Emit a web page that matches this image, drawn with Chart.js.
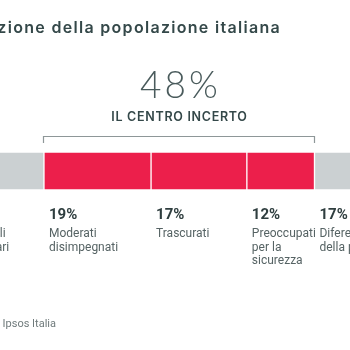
<!DOCTYPE html>
<html><head><meta charset="utf-8">
<script src="https://cdn.jsdelivr.net/npm/chart.js@4/dist/chart.umd.min.js"></script>
<style>html,body{margin:0;padding:0;background:#fff}#wrap{width:350px;height:350px;position:relative}</style>
</head><body><div id="wrap"><canvas id="c"></canvas></div>
<script>
const titleText = "Segmentazione della popolazione italiana";
const sourceText = "Fonte: elaborazione Ipsos, Ipsos Italia";
const groupLabel = "IL CENTRO INCERTO";
const categories = ["Popolazione"];
const segmentNames = [["Sociali","solidari"],["Moderati","disimpegnati"],["Trascurati"],["Preoccupati","per la","sicurezza"],["Diferenti","della politica"]];
const segmentValues = [14, 19, 17, 12, 17];
const groupSegments = [1, 2, 3];
const RED = "#ec1f4b", GREY = "#cbd0d2";
const segmentColors = [GREY, RED, RED, RED, GREY];

const overlay = {
  id: 'overlay',
  afterDraw(chart) {
    const ctx = chart.ctx;
    ctx.save();
    // title
    ctx.fillStyle = '#344849';
    ctx.font = '600 16px Inter, "Open Sans", sans-serif';
    ctx.letterSpacing = '1.3px';
    ctx.textAlign = 'right'; ctx.textBaseline = 'alphabetic';
    ctx.fillText(titleText, 281, 33);
    // bracket over the group
    const first = chart.getDatasetMeta(groupSegments[0]).data[0];
    const last = chart.getDatasetMeta(groupSegments[groupSegments.length-1]).data[0];
    const bx0 = Math.round(Math.min(first.base, first.x)) - 0.5;
    const bx1 = Math.round(Math.max(last.base, last.x)) + 0.5;
    ctx.strokeStyle = '#8e9798'; ctx.lineWidth = 1.2;
    ctx.beginPath();
    ctx.moveTo(bx0, 143); ctx.lineTo(bx0, 136.5); ctx.lineTo(bx1, 136.5); ctx.lineTo(bx1, 143);
    ctx.stroke();
    const cx = (bx0 + bx1) / 2;
    const total = groupSegments.reduce((s, i) => s + segmentValues[i], 0);
    ctx.textAlign = 'center';
    ctx.fillStyle = '#4a5b5c';
    ctx.font = '300 37px Lato, "Open Sans", sans-serif';
    ctx.letterSpacing = '3px';
    ctx.fillText(total + '%', cx + 1.5, 98);
    ctx.fillStyle = '#344849';
    ctx.font = '600 12.5px Inter, "Open Sans", sans-serif';
    ctx.letterSpacing = '0.7px';
    ctx.fillText(groupLabel, cx + 0.5, 121);
    ctx.letterSpacing = '0px';
    // segment labels
    ctx.textAlign = 'left';
    segmentNames.forEach((lines, i) => {
      const el = chart.getDatasetMeta(i).data[0];
      const sx = Math.min(el.base, el.x) + 5;
      ctx.fillStyle = '#2f3e3f';
      ctx.font = 'bold 15px Roboto, sans-serif';
      ctx.fillText(segmentValues[i] + '%', sx, 219);
      ctx.fillStyle = '#566364';
      ctx.font = '12px Roboto, sans-serif';
      lines.forEach((ln, j) => ctx.fillText(ln, sx, 237 + j * 13.5));
    });
    // source
    ctx.textAlign = 'right';
    ctx.fillStyle = '#6f7a7b';
    ctx.font = '11px Roboto, sans-serif';
    ctx.fillText(sourceText, 56, 327);
    ctx.restore();
  }
};

new Chart(document.getElementById('c'), {
  type: 'bar',
  data: {
    labels: categories,
    datasets: segmentValues.map((v, i) => ({
      label: segmentNames[i].join(' '),
      data: [v],
      backgroundColor: segmentColors[i],
      borderColor: 'rgba(255,255,255,0.45)',
      borderWidth: 1,
      borderSkipped: false,
      barPercentage: 1,
      categoryPercentage: 1
    }))
  },
  options: {
    indexAxis: 'y',
    responsive: true,
    maintainAspectRatio: false,
    animation: false,
    layout: { padding: { top: 152, bottom: 160, left: 0, right: 0 } },
    scales: {
      x: { stacked: true, min: 6.2, max: 68.3, display: false },
      y: { stacked: true, display: false }
    },
    plugins: { legend: { display: false }, tooltip: { enabled: false } }
  },
  plugins: [overlay]
});
</script></body></html>
